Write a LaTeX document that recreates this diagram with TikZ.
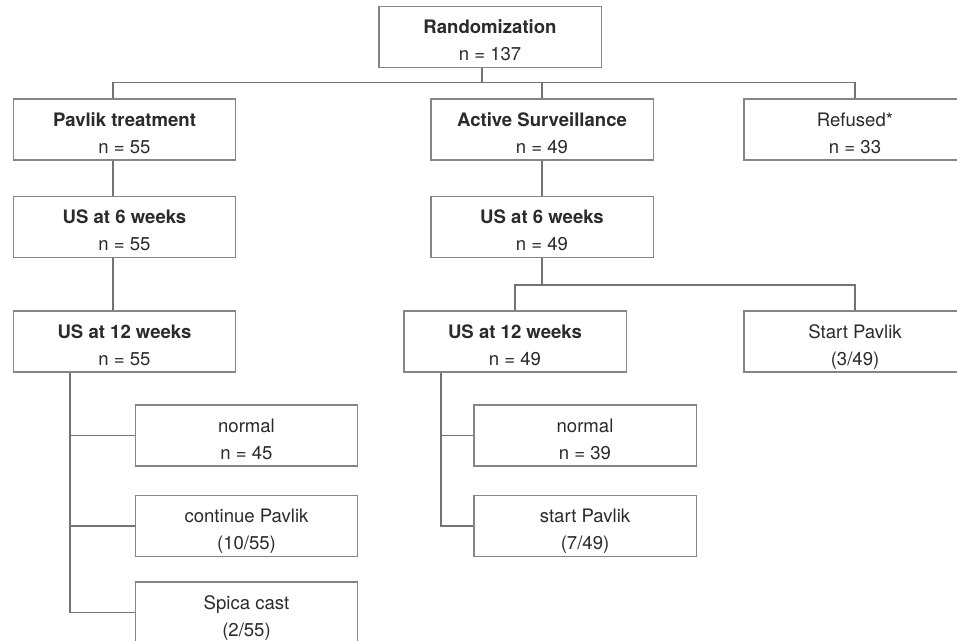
\documentclass[tikz,border=0pt]{standalone}
\usepackage{fontspec}
\setmainfont{TeX Gyre Heros}
\usepackage{xcolor}
\usepackage{tikz}
\usetikzlibrary{calc,positioning}
\definecolor{boxgray}{HTML}{858585}
\definecolor{linkgray}{HTML}{737373}
\definecolor{txtgray}{HTML}{2B2B2B}
\newcommand{\twolines}[2]{\rule{0pt}{18pt}#1\\#2\rule[-3.5pt]{0pt}{0pt}}

\begin{document}
\begin{tikzpicture}[x=0.025cm, y=-0.025cm,
    stage/.style={draw=boxgray, line width=0.75pt, fill=white,
                  minimum width=5.55cm, minimum height=1.525cm,
                  inner sep=0pt, align=center, text=txtgray,
                  font=\fontsize{13.2}{19}\selectfont},
    link/.style={draw=linkgray, line width=0.75pt}]
  \useasboundingbox (0,0) rectangle (957,640);
  \clip (0,0) rectangle (957,640);

  \node[stage] (rand) at (490, 37)      {\twolines{\textbf{Randomization}}{n = 137}};
  \node[stage] (pavlik) at (124.5, 129.5) {\twolines{\textbf{Pavlik treatment}}{n = 55}};
  \node[stage] (active) at (542, 129.5)   {\twolines{\textbf{Active Surveillance}}{n = 49}};
  \node[stage] (refused) at (855, 129.5)  {\twolines{Refused*}{n = 33}};

  \node[stage] (usa6) at (124.5, 227)     {\twolines{\textbf{US at 6 weeks}}{n = 55}};
  \node[stage] (usa12) at (124.5, 341.5)  {\twolines{\textbf{US at 12 weeks}}{n = 55}};
  \node[stage] (norma) at (246.5, 435.5)  {\twolines{normal}{n = 45}};
  \node[stage] (conta) at (246.5, 526)    {\twolines{continue Pavlik}{(10/55)}};
  \node[stage] (spica) at (246.5, 612.5)  {\twolines{Spica cast}{(2/55)}};

  \node[stage] (usb6) at (542, 227)       {\twolines{\textbf{US at 6 weeks}}{n = 49}};
  \node[stage] (usb12) at (515, 341.5)    {\twolines{\textbf{US at 12 weeks}}{n = 49}};
  \node[stage] (startb) at (855, 341.5)   {\twolines{Start Pavlik}{(3/49)}};
  \node[stage] (normb) at (585, 435.5)    {\twolines{normal}{n = 39}};
  \node[stage] (contb) at (585, 526)      {\twolines{start Pavlik}{(7/49)}};

  \coordinate (j0) at (482, 82.5);
  \coordinate (jp) at (113, 82.5);
  \coordinate (jb) at (0, 285);
  \coordinate (ja) at (70, 0);
  \coordinate (jc) at (441, 0);

  \draw[link] (j0 |- rand.south) -- (j0);
  \draw[link] (jp |- pavlik.north) -- (jp) -- (refused.north |- jp) -- (refused.north);
  \draw[link] (active.north) -- (active.north |- jp);
  \draw[link] (jp |- pavlik.south) -- (jp |- usa6.north);
  \draw[link] (jp |- usa6.south) -- (jp |- usa12.north);
  \draw[link] (ja |- usa12.south) |- (spica.west);
  \draw[link] (ja |- norma.west) -- (norma.west);
  \draw[link] (ja |- conta.west) -- (conta.west);

  \draw[link] (active.south) -- (usb6.north);
  \draw[link] (usb6.south) -- (usb6.south |- jb);
  \draw[link] (usb12.north) |- (startb.north |- jb) -- (startb.north);
  \draw[link] (jc |- usb12.south) |- (contb.west);
  \draw[link] (jc |- normb.west) -- (normb.west);
\end{tikzpicture}
\end{document}
